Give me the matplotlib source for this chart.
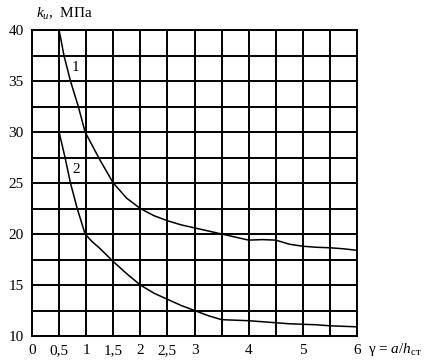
import numpy as np
import matplotlib
matplotlib.use("Agg")
import matplotlib.pyplot as plt

plt.rcParams['font.family'] = ['Liberation Serif', 'DejaVu Serif']
plt.rcParams['mathtext.fontset'] = 'custom'
plt.rcParams['mathtext.rm'] = 'Liberation Serif'
plt.rcParams['mathtext.it'] = 'Liberation Serif:italic'

# curve 1
x1 = [0.5, 0.59, 0.71, 0.855, 0.98, 1.1, 1.25, 1.5, 1.75, 2.0, 2.25, 2.5, 2.75,
      3.0, 3.25, 3.5, 3.75, 4.0, 4.25, 4.5, 4.75, 5.0, 5.25, 5.5, 5.75, 6.0]
y1 = [40.0, 37.5, 35.0, 32.5, 30.0, 28.8, 27.3, 25.0, 23.5, 22.5, 21.8, 21.3, 20.9,
      20.6, 20.3, 20.0, 19.7, 19.4, 19.45, 19.4, 19.0, 18.8, 18.7, 18.65, 18.55, 18.4]

# curve 2
x2 = [0.5, 0.61, 0.71, 0.835, 0.98, 1.1, 1.25, 1.5, 1.75, 2.0, 2.25, 2.5, 2.75,
      3.0, 3.25, 3.5, 3.75, 4.0, 4.25, 4.5, 4.75, 5.0, 5.25, 5.5, 5.75, 6.0]
y2 = [30.0, 27.5, 25.0, 22.5, 20.0, 19.3, 18.6, 17.3, 16.1, 15.0, 14.2, 13.6, 13.0,
      12.5, 12.0, 11.6, 11.55, 11.5, 11.4, 11.3, 11.2, 11.15, 11.1, 11.0, 10.95, 10.9]

xticks = [0, 0.5, 1, 1.5, 2, 2.5, 3, 3.5, 4, 4.5, 5, 5.5, 6]
xtick_labels = ['0', '0,5', '1', '1,5', '2', '2,5', '3', '', '4', '', '5', '', '6']
yticks = [10, 15, 20, 25, 30, 35, 40]

fig = plt.figure(figsize=(4.36, 3.61), dpi=100)
ax = fig.add_axes([32/436, 25/361, 325/436, 306/361])

ax.plot(x1, y1, color='black', lw=1.1)
ax.plot(x2, y2, color='black', lw=1.1)

ax.set_xlim(0, 6)
ax.set_ylim(10, 40)
ax.set_xticks(xticks)
ax.set_xticklabels(xtick_labels)
ax.set_yticks(yticks)
ax.set_yticks(np.arange(12.5, 40, 5), minor=True)
ax.grid(True, which='both', color='black', lw=1.4)
ax.tick_params(which='both', length=0, labelsize=11, pad=6)
for s in ax.spines.values():
    s.set_linewidth(1.4)

ax.text(0.81, 36.3, '1', fontsize=11, ha='center', va='center')
ax.text(0.82, 26.3, '2', fontsize=11, ha='center', va='center')

fig.text(36/436, 1 - 14/361, '$k_{и}$,  МПа', fontsize=11, ha='left', va='center')
fig.text(368/436, 1 - 350/361, 'γ = $a/h_{\\mathrm{ст}}$', fontsize=11, ha='left', va='center')

fig.savefig('out.png', dpi=100)
